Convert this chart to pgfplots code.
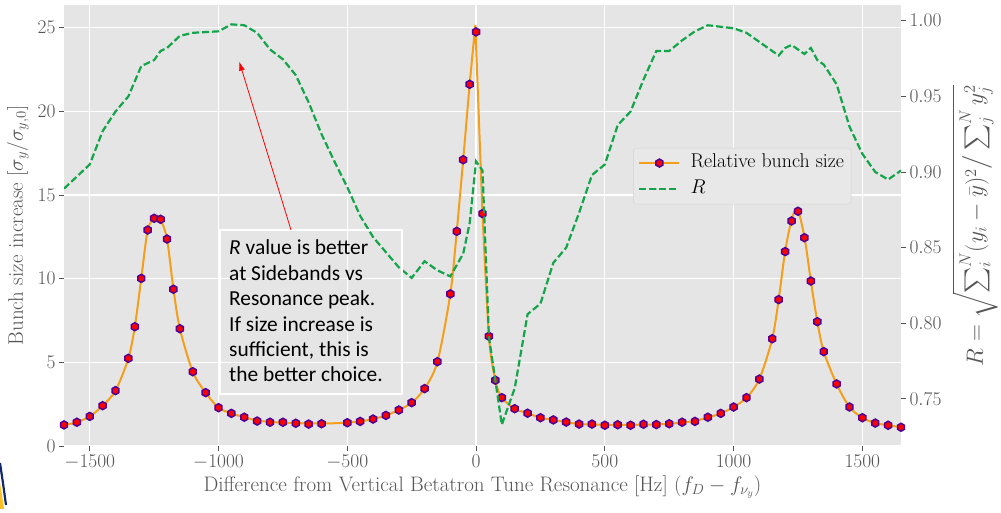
\RequirePackage{fix-cm}
\documentclass[border=0pt]{standalone}
\usepackage{exscale}
\usepackage{fontspec}
\setmainfont{Latin Modern Roman}
\newfontfamily\carlito{Carlito}
\usepackage{pgfplots}
\pgfplotsset{compat=1.18}
\usetikzlibrary{arrows.meta}
\definecolor{bggray}{HTML}{E5E5E5}
\definecolor{tickgray}{HTML}{555555}
\definecolor{orangeline}{RGB}{245,158,25}
\definecolor{greenR}{RGB}{20,165,75}
\definecolor{markedge}{RGB}{80,0,150}
\definecolor{legfill}{RGB}{232,232,232}
\definecolor{legedge}{RGB}{212,212,212}
\definecolor{slideblue}{RGB}{20,40,110}
\definecolor{slideyellow}{RGB}{250,190,40}
\newcommand\tickfont{\fontsize{19.4}{23}\selectfont}
\newcommand\labelfont{\fontsize{21}{25}\selectfont}
\newcommand\legfont{\fontsize{19.9}{23}\selectfont}
\newcommand\annfont{\carlito\fontsize{21.4}{25.4}\selectfont}
\newcommand\Rlabel{{\fontsize{23.5}{27}\selectfont$R = \sqrt{\sum_i^N (y_i - \bar{y})^2 \big/ \sum_j^N y_j^2}$}}
\pgfdeclareplotmark{hexa*}{%
  \pgfpathmoveto{\pgfpointpolar{90}{\pgfplotmarksize}}%
  \pgfpathlineto{\pgfpointpolar{150}{\pgfplotmarksize}}%
  \pgfpathlineto{\pgfpointpolar{210}{\pgfplotmarksize}}%
  \pgfpathlineto{\pgfpointpolar{270}{\pgfplotmarksize}}%
  \pgfpathlineto{\pgfpointpolar{330}{\pgfplotmarksize}}%
  \pgfpathlineto{\pgfpointpolar{30}{\pgfplotmarksize}}%
  \pgfpathclose
  \pgfusepathqfillstroke}

\pgfplotstableread{
x y
-1600 1.26
-1550 1.42
-1500 1.77
-1450 2.41
-1400 3.31
-1350 5.24
-1325 7.13
-1300 10.02
-1275 12.91
-1250 13.61
-1225 13.55
-1200 12.37
-1175 9.37
-1150 7.01
-1100 4.44
-1050 3.19
-1000 2.29
-950 1.95
-900 1.72
-850 1.49
-800 1.42
-750 1.42
-700 1.36
-650 1.31
-600 1.33
-500 1.39
-450 1.47
-400 1.61
-350 1.83
-300 2.15
-250 2.59
-200 3.43
-150 5.04
-100 9.09
-75 12.83
-50 17.11
-25 21.62
0 24.75
25 13.89
50 6.56
75 3.93
100 2.89
150 2.23
200 1.96
250 1.69
300 1.56
350 1.43
400 1.31
450 1.31
500 1.24
550 1.27
600 1.24
650 1.30
700 1.28
750 1.33
800 1.42
850 1.47
900 1.72
950 1.95
1000 2.33
1050 2.89
1100 4.00
1150 6.41
1175 8.75
1200 11.62
1225 13.45
1250 14.03
1275 12.45
1300 9.86
1325 7.43
1350 5.64
1400 3.71
1450 2.33
1500 1.69
1550 1.37
1600 1.24
1650 1.12
}\bunch

\pgfplotstableread{
x r
-1600 0.889
-1550 0.897
-1500 0.905
-1450 0.927
-1400 0.940
-1350 0.950
-1300 0.970
-1275 0.972
-1250 0.974
-1225 0.980
-1200 0.982
-1150 0.990
-1100 0.992
-1050 0.9925
-1000 0.993
-950 0.9976
-900 0.997
-850 0.992
-800 0.981
-750 0.9745
-700 0.964
-650 0.946
-600 0.925
-550 0.907
-500 0.890
-450 0.871
-400 0.857
-350 0.847
-300 0.837
-250 0.830
-200 0.841
-150 0.835
-100 0.831
-50 0.846
-25 0.866
0 0.907
25 0.901
50 0.791
75 0.762
100 0.733
150 0.757
200 0.806
250 0.813
300 0.840
350 0.850
400 0.873
450 0.898
500 0.905
550 0.931
600 0.940
650 0.961
700 0.980
750 0.980
800 0.987
850 0.993
900 0.997
950 0.996
1000 0.995
1050 0.992
1100 0.986
1150 0.980
1175 0.977
1200 0.982
1225 0.984
1250 0.981
1275 0.978
1300 0.982
1325 0.974
1350 0.971
1400 0.958
1450 0.930
1500 0.912
1550 0.900
1600 0.895
1650 0.901
}\rdata

\begin{document}
\begin{tikzpicture}
\useasboundingbox (0pt,0pt) rectangle (1001pt,513pt);
% slide decoration (bottom-left corner)
\fill[slideyellow] (0pt,4pt) -- (0pt,30pt) .. controls (2pt,18pt) .. (4pt,4pt) -- cycle;
\draw[slideblue, line width=2.2pt] (0pt,50pt) .. controls (3pt,30pt) .. (6pt,8pt);

\begin{axis}[
  at={(64pt,67pt)}, anchor=south west,
  scale only axis, width=837pt, height=441pt,
  xmin=-1600, xmax=1650, ymin=0, ymax=26.36,
  axis background/.style={fill=bggray},
  axis line style={draw=none},
  xtick={-1500,-1000,-500,0,500,1000,1500},
  ytick={0,5,10,15,20,25},
  xtick pos=left, ytick pos=left,
  tick align=outside,
  major tick length=5pt,
  tick style={tickgray, line width=0.9pt},
  grid=major,
  major grid style={white, line width=1.2pt},
  tick label style={font=\tickfont, text=tickgray},
  /pgf/number format/1000 sep={},
  xlabel={Difference from Vertical Betatron Tune Resonance [Hz] $(f_D - f_{\nu_y})$},
  ylabel={Bunch size increase $[\sigma_y/\sigma_{y,0}]$},
  label style={font=\labelfont, text=tickgray},
  xlabel style={at={(axis description cs:0.5,-0.093)}, anchor=center},
  ylabel style={at={(axis description cs:-0.055,0.5)}, anchor=center},
]
% fitted curve (orange line)
\addplot[orangeline, line width=2pt, smooth, forget plot] coordinates {
(-1600,1.26) (-1550,1.42) (-1500,1.77) (-1450,2.41) (-1400,3.31) (-1350,5.24)
(-1325,7.13) (-1300,10.02) (-1275,12.91) (-1250,13.61) (-1237,13.75) (-1225,13.55)
(-1200,12.37) (-1175,9.37) (-1150,7.01) (-1100,4.44) (-1050,3.19) (-1000,2.29)
(-950,1.95) (-900,1.72) (-850,1.52) (-800,1.44) (-750,1.40) (-700,1.37) (-650,1.35)
(-600,1.35) (-550,1.36) (-500,1.40) (-450,1.47) (-400,1.61) (-350,1.83) (-300,2.15)
(-250,2.59) (-200,3.43) (-150,5.04) (-100,9.09) (-75,12.83) (-50,17.11) (-25,21.62)};
\addplot[orangeline, line width=2pt, forget plot] coordinates {
(-25,21.62) (-3,25.16) (25,13.89)};
\addplot[orangeline, line width=2pt, smooth, forget plot] coordinates {
(25,13.89) (50,6.56) (75,3.93) (100,2.89) (150,2.23) (200,1.96) (250,1.69) (300,1.56)
(350,1.43) (400,1.31) (450,1.29) (500,1.26) (550,1.26) (600,1.26) (650,1.28) (700,1.29)
(750,1.33) (800,1.40) (850,1.50) (900,1.70) (950,1.95) (1000,2.33) (1050,2.89)
(1100,4.00) (1150,6.41) (1175,8.75) (1200,11.62) (1225,13.5) (1247,14.18) (1275,12.5)
(1300,9.86) (1325,7.43) (1350,5.64) (1400,3.71) (1450,2.33) (1500,1.69) (1550,1.37)
(1600,1.24) (1650,1.12)};
% measured points
\addplot[only marks, mark=hexa*, mark size=4pt,
  mark options={fill=red, draw=markedge, line width=1.5pt}, forget plot]
  table[x=x, y=y] {\bunch};
\end{axis}

\begin{axis}[
  at={(64pt,67pt)}, anchor=south west,
  scale only axis, width=837pt, height=441pt,
  xmin=-1600, xmax=1650, ymin=0.7189, ymax=1.0104,
  hide x axis,
  axis line style={draw=none},
  ytick={0.75,0.8,0.85,0.9,0.95,1},
  ytick pos=right, yticklabel pos=right,
  tick align=outside,
  major tick length=5pt,
  tick style={tickgray, line width=0.9pt},
  tick label style={font=\tickfont, text=tickgray},
  yticklabel style={/pgf/number format/.cd, fixed, fixed zerofill, precision=2},
  ylabel={\Rlabel},
  label style={font=\labelfont, text=tickgray},
  ylabel style={at={(axis description cs:1.0884,0.5)}, anchor=center},
  legend style={at={(0.680,0.676)}, anchor=north west,
    font=\legfont, fill=legfill, draw=legedge, rounded corners=3pt,
    inner xsep=5pt, inner ysep=4.5pt, column sep=8pt, row sep=5pt,
    nodes={inner sep=2pt, text height=13pt, text depth=4pt, text=black}},
  legend cell align=left,
  legend image code/.code={\draw[mark repeat=2,mark phase=2,#1] plot coordinates {(0pt,0pt) (20pt,0pt) (40pt,0pt)};},
]
\addlegendimage{orangeline, line width=2pt, mark=hexa*, mark size=4pt,
  mark options={fill=red, draw=markedge, line width=1.5pt, solid}}
\addlegendentry{Relative bunch size}
\addplot[greenR, line width=2.2pt, dash pattern=on 7pt off 3pt] table[x=x, y=r] {\rdata};
\addlegendentry{$R$}
\end{axis}

% annotation
\draw[white, line width=1.6pt] (220pt,119pt) rectangle (401.7pt,283pt);
\draw[red, line width=0.8pt, -{Latex[length=9pt,width=6pt]}] (291pt,283pt) -- (239.3pt,451.3pt);
\node[anchor=base west, inner sep=0pt, font=\annfont] at (229pt,258pt) {\textit{R} value is better};
\node[anchor=base west, inner sep=0pt, font=\annfont] at (229pt,232.6pt) {at Sidebands vs};
\node[anchor=base west, inner sep=0pt, font=\annfont] at (229pt,207.2pt) {Resonance peak.};
\node[anchor=base west, inner sep=0pt, font=\annfont] at (229pt,181.8pt) {If size increase is};
\node[anchor=base west, inner sep=0pt, font=\annfont] at (229pt,156.4pt) {sufficient, this is};
\node[anchor=base west, inner sep=0pt, font=\annfont] at (229pt,131pt) {the better choice.};
\end{tikzpicture}
\end{document}
